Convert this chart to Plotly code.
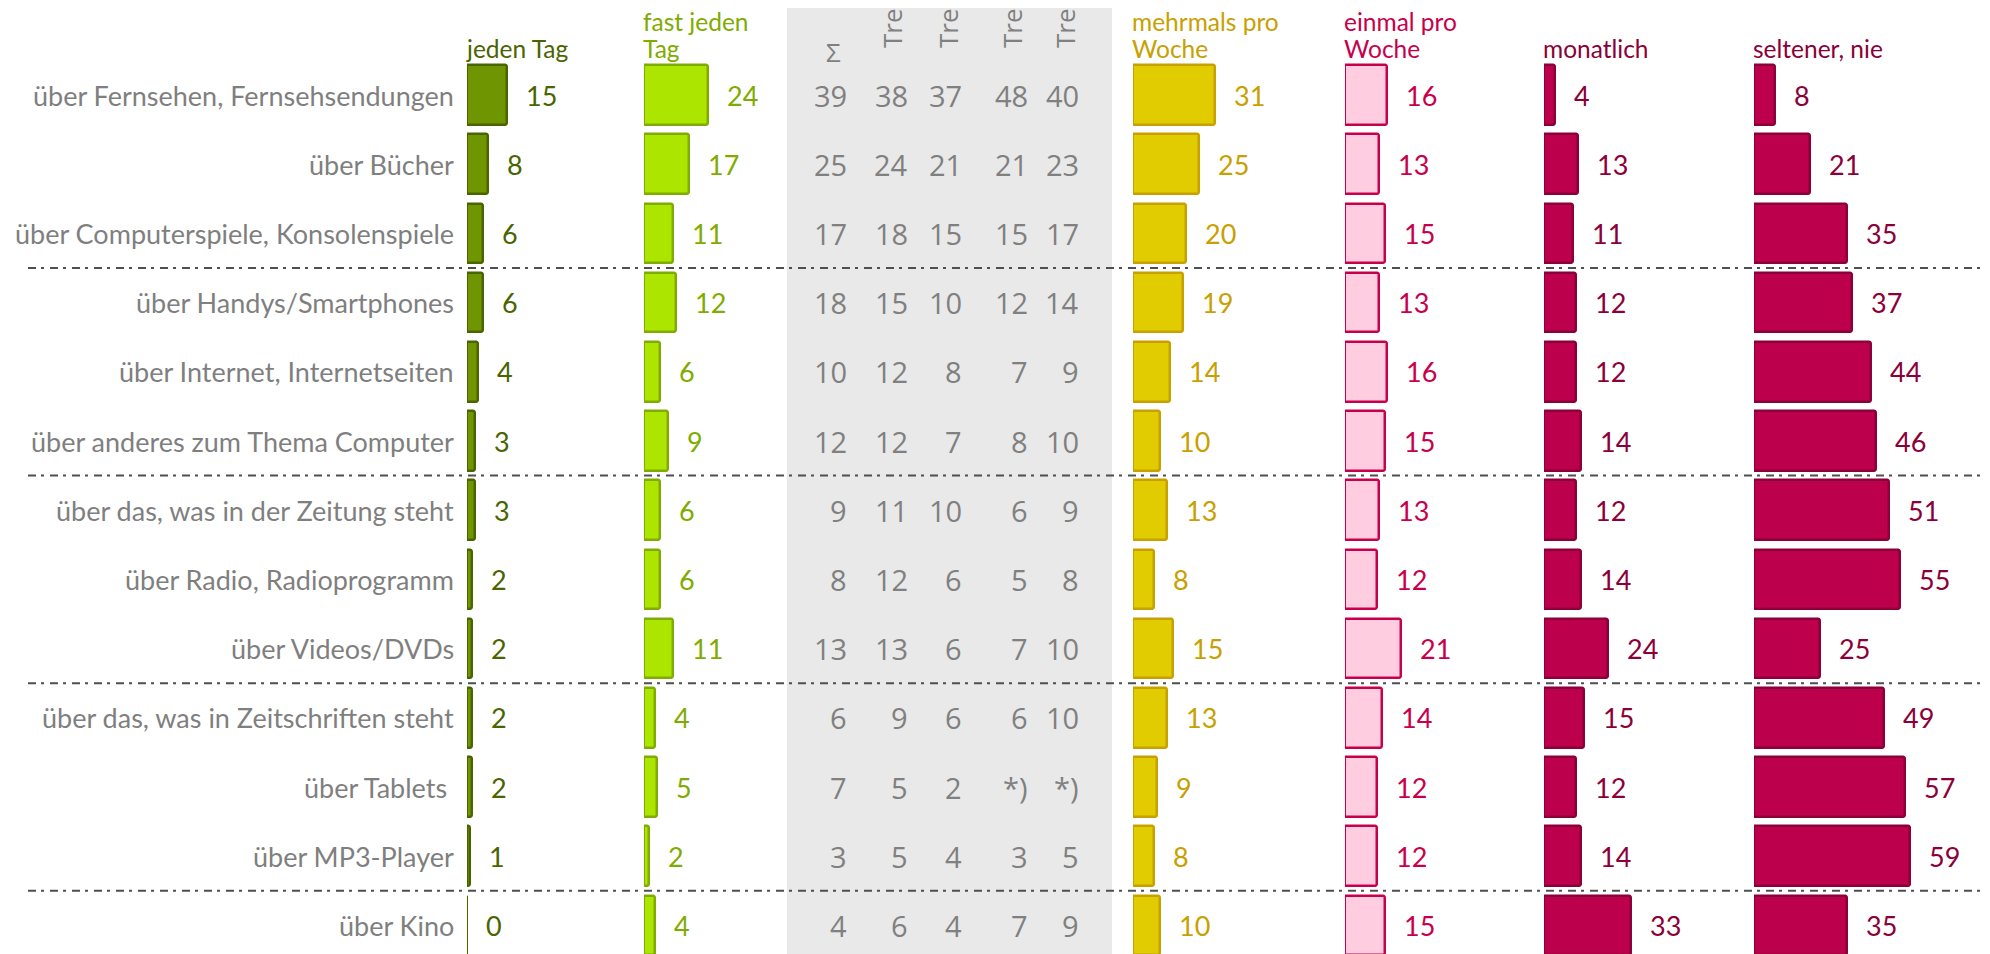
import plotly.graph_objects as go

# --- data -----------------------------------------------------------------
categories = [
    "über Fernsehen, Fernsehsendungen",
    "über Bücher",
    "über Computerspiele, Konsolenspiele",
    "über Handys/Smartphones",
    "über Internet, Internetseiten",
    "über anderes zum Thema Computer",
    "über das, was in der Zeitung steht",
    "über Radio, Radioprogramm",
    "über Videos/DVDs",
    "über das, was in Zeitschriften steht",
    "über Tablets\u00a0",
    "über MP3-Player",
    "über Kino",
]

jeden_tag = [15, 8, 6, 6, 4, 3, 3, 2, 2, 2, 2, 1, 0]
fast_jeden_tag = [24, 17, 11, 12, 6, 9, 6, 6, 11, 4, 5, 2, 4]
mehrmals_pro_woche = [31, 25, 20, 19, 14, 10, 13, 8, 15, 13, 9, 8, 10]
einmal_pro_woche = [16, 13, 15, 13, 16, 15, 13, 12, 21, 14, 12, 12, 15]
monatlich = [4, 13, 11, 12, 12, 14, 12, 14, 24, 15, 12, 14, 33]
seltener_nie = [8, 21, 35, 37, 44, 46, 51, 55, 25, 49, 57, 59, 35]

summe = ["39", "25", "17", "18", "10", "12", "9", "8", "13", "6", "7", "3", "4"]
trend_1 = ["38", "24", "18", "15", "12", "12", "11", "12", "13", "9", "5", "5", "6"]
trend_2 = ["37", "21", "15", "10", "8", "7", "10", "6", "6", "6", "2", "4", "4"]
trend_3 = ["48", "21", "15", "12", "7", "8", "6", "5", "7", "6", "*)", "3", "7"]
trend_4 = ["40", "23", "17", "14", "9", "10", "9", "8", "10", "10", "*)", "5", "9"]

table_heads = ["\u03a3", "Trend 2014", "Trend 2013", "Trend 2012", "Trend 2011"]
groups = [(2, 3), (5, 6), (8, 9), (11, 12)]

# --- geometry / style -----------------------------------------------------
# the page body keeps its default 8px margin, so the figure is drawn 8px
# smaller and everything is placed in page pixels minus that offset
PAGE_W, PAGE_H = 1990, 954
OFF = 8
W, H = PAGE_W - OFF, PAGE_H - OFF
ROW0, ROW_H = 95, 69.2
PX_PER_UNIT = 2.65
LABEL_FONT = "Lato"
TABLE_FONT = "Open Sans"


def row_y(py):
    return (py - ROW0) / ROW_H


def px_x(px):
    return (px - OFF) / W


columns = [
    dict(vals=jeden_tag, head=["", "jeden Tag"], left=467, right=625,
         fill="#6f9600", line="#4a6400", text="#4a6400"),
    dict(vals=fast_jeden_tag, head=["fast jeden", "Tag"], left=644, right=780,
         fill="#ace600", line="#80ab00", text="#80ab00"),
    dict(vals=mehrmals_pro_woche, head=["mehrmals pro", "Woche"], left=1133, right=1330,
         fill="#e0cc00", line="#c8a000", text="#c8a000"),
    dict(vals=einmal_pro_woche, head=["einmal pro", "Woche"], left=1345, right=1530,
         fill="#ffcce0", line="#c8004c", text="#c8004c"),
    dict(vals=monatlich, head=["", "monatlich"], left=1544, right=1740,
         fill="#bc004b", line="#8b0038", text="#8b0038"),
    dict(vals=seltener_nie, head=["", "seltener, nie"], left=1754, right=1990,
         fill="#bc004b", line="#8b0038", text="#8b0038"),
]

rows = list(range(len(categories)))

fig = go.Figure()
annotations = []
axes = {}

for k, col in enumerate(columns, start=1):
    xa = "x" if k == 1 else f"x{k}"
    fig.add_trace(go.Bar(
        x=col["vals"], y=rows, orientation="h",
        xaxis=xa, yaxis="y", width=0.86,
        marker=dict(color=col["fill"], line=dict(color=col["line"], width=2.5),
                    cornerradius=2),
        hoverinfo="x+y", showlegend=False))
    axes["xaxis" if k == 1 else f"xaxis{k}"] = dict(
        domain=[px_x(col["left"]), min(px_x(col["right"]), 1)],
        range=[0, (col["right"] - col["left"]) / PX_PER_UNIT],
        visible=False, anchor="y", fixedrange=True)

    for i, v in enumerate(col["vals"]):
        annotations.append(dict(
            x=v, xref=xa, y=i, yref="y", text=str(v), showarrow=False,
            xanchor="left", yanchor="middle", xshift=17,
            font=dict(family=LABEL_FONT, size=27, color=col["text"])))

    for line_txt, py in zip(col["head"], [21, 48]):
        if line_txt:
            annotations.append(dict(
                x=px_x(col["left"] - 2), xref="paper", y=row_y(py), yref="y",
                text=line_txt, showarrow=False, xanchor="left", yanchor="middle",
                borderpad=0,
                font=dict(family=LABEL_FONT, size=24.5, color=col["text"])))

# category labels
for i, c in enumerate(categories):
    annotations.append(dict(
        x=px_x(455), xref="paper", y=i, yref="y", text=c, showarrow=False,
        xanchor="right", yanchor="middle", borderpad=0,
        font=dict(family=LABEL_FONT, size=27, color="#7f7f7f")))

# grey table in the middle
table_cols = [summe, trend_1, trend_2, trend_3, trend_4]
table_right = [849, 910, 964, 1030, 1081]
table_centre = [833, 892, 948, 1012, 1065]
for j, (vals, xr) in enumerate(zip(table_cols, table_right)):
    for i, v in enumerate(vals):
        annotations.append(dict(
            x=px_x(xr), xref="paper", y=i, yref="y", text=v, showarrow=False,
            xanchor="right", yanchor="middle",
            font=dict(family=TABLE_FONT, size=29, color="#808080")))
    if j == 0:
        annotations.append(dict(
            x=px_x(table_centre[j]), xref="paper", y=row_y(52), yref="y",
            text=table_heads[j], showarrow=False, xanchor="center", yanchor="middle",
            font=dict(family=TABLE_FONT, size=26, color="#808080")))
    else:
        # header runs off the top of the page, as in the source chart
        annotations.append(dict(
            x=px_x(table_centre[j]), xref="paper", y=row_y(50), yref="y",
            text=table_heads[j], showarrow=False, xanchor="center", yanchor="bottom",
            textangle=-90,
            font=dict(family=TABLE_FONT, size=26, color="#808080")))

shapes = [dict(type="rect", xref="paper", yref="paper", x0=px_x(787), x1=px_x(1112),
               y0=0, y1=1, fillcolor="#e9e9e9", line=dict(width=0), layer="below")]
for a, b in groups:
    shapes.append(dict(type="line", xref="paper", yref="y", x0=px_x(28), x1=1,
                       y0=(a + b) / 2, y1=(a + b) / 2, layer="below",
                       line=dict(color="#4f4f4f", width=2, dash="8px,5px,3px,6px")))

fig.update_layout(
    width=W, height=H,
    margin=dict(l=0, r=0, t=0, b=0),
    paper_bgcolor="white", plot_bgcolor="rgba(0,0,0,0)",
    barmode="overlay", bargap=0,
    yaxis=dict(domain=[0, 1], range=[row_y(PAGE_H), row_y(OFF)], visible=False,
               anchor="x", fixedrange=True),
    annotations=annotations,
    shapes=shapes,
    showlegend=False,
    **axes,
)

fig.write_html("out.html")
